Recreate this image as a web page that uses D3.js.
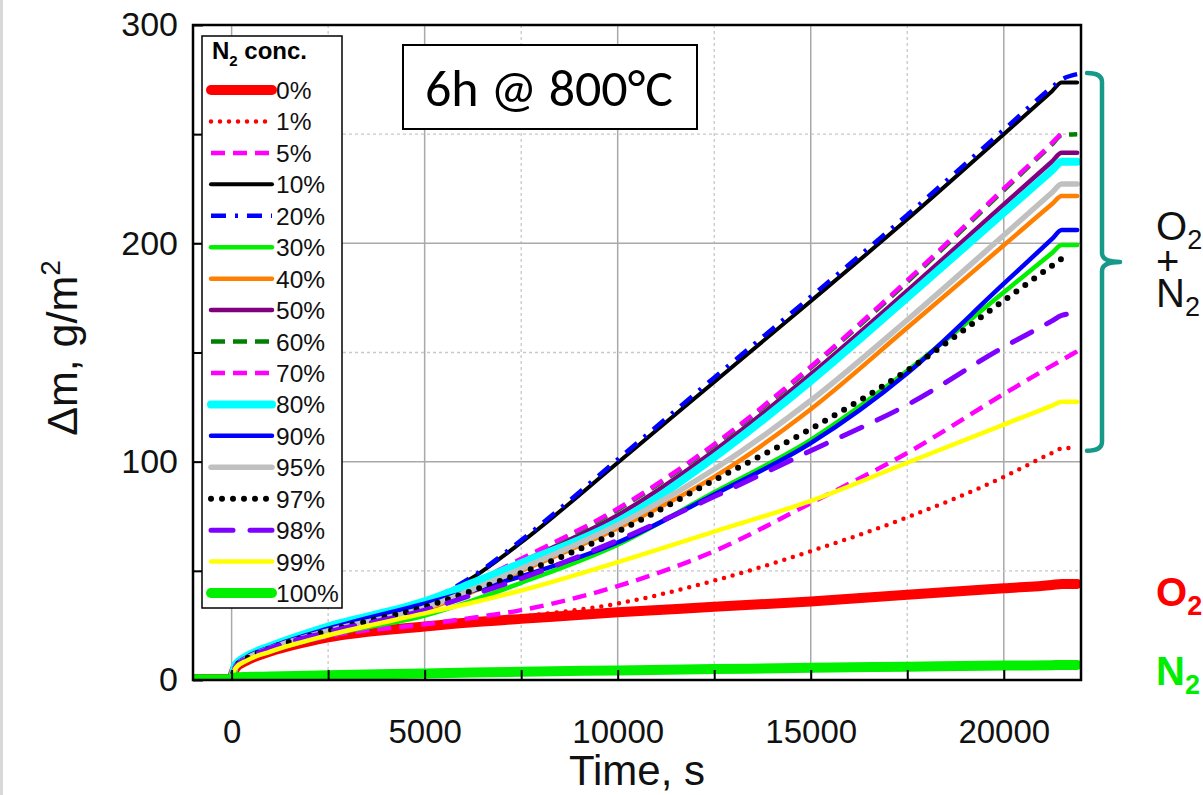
<!DOCTYPE html>
<html>
<head>
<meta charset="utf-8">
<script src="https://cdn.jsdelivr.net/npm/d3@7/dist/d3.min.js"></script>
<style>
  html, body { margin: 0; padding: 0; background: #fff; }
  svg { display: block; font-family: Arial, "Liberation Sans", Helvetica, sans-serif; }
</style>
</head>
<body>
<svg id="chart" width="1203" height="795"></svg>
<script>
// Sample times (s) shared by every mass-gain series
const times = [-1000, -50, 0, 100, 400, 1000, 2500, 5000, 6250, 7500, 10000, 12500, 15000, 17500, 20000, 21250, 21500, 21900];

// Mass gain Δm (g/m²) for each N2 concentration in the O2/N2 atmosphere
const n0   = [0.5, 0.5, 1, 5.5, 9, 13, 19.5, 24.5, 26.5, 28, 31, 33.5, 36, 39, 42, 43.5, 44, 44];
const n1   = [0.5, 0.5, 1, 5.5, 9, 13, 19.5, 24.5, 26.5, 29, 35, 45.5, 59, 74.5, 93, 104, 106, 106.5];
const n5   = [0.5, 0.5, 1, 5.5, 9, 13, 20, 25.5, 28.5, 32, 43, 59, 81, 104, 131, 144, 146.5, 150.5];
const n10  = [0.5, 0.5, 1, 6.5, 10.5, 15, 23.5, 35, 47, 63, 99.5, 136.5, 173.5, 211, 250, 269.7, 273.7, 273.7];
const n20  = [0.5, 0.5, 1, 6.5, 10.5, 15, 23.5, 35.5, 47.5, 64, 101, 138.5, 175.5, 213, 252, 271.5, 275, 277.5];
const n30  = [0.5, 0.5, 1, 5.5, 9, 13, 20.5, 29.5, 36.5, 44.5, 62, 86, 110, 141.6, 177.6, 195.6, 199.2, 199.2];
const n40  = [0.5, 0.5, 1, 6, 10, 14.5, 22, 32, 40.5, 50, 69.5, 93, 124, 161.3, 199.1, 218, 221.7, 221.7];
const n50  = [0.5, 0.5, 1, 6, 10, 14.5, 22.5, 34, 43.5, 54, 75.5, 105, 140, 178.3, 217.8, 237.5, 241.5, 241.5];
const n60  = [0.5, 0.5, 1, 6, 10, 14.5, 22.5, 34, 44, 55, 78, 107.5, 143, 182.3, 224.3, 245.3, 249.5, 250];
const n70  = [0.5, 0.5, 1, 6, 10, 14.5, 22.5, 34, 44.5, 55.5, 78.5, 108, 143.5, 183, 225, 246, 250.5, null];
const n80  = [0.5, 0.5, 1, 7, 11, 15.5, 24.5, 36, 44.5, 53.5, 72.5, 102, 137, 175.2, 214.1, 233.5, 237.4, 237.4];
const n90  = [0.5, 0.5, 1, 6.5, 10.5, 15, 23.5, 35, 41, 47.5, 63, 85, 108.5, 140.5, 181.5, 202, 206.1, 206.1];
const n95  = [0.5, 0.5, 1, 6, 10, 14.5, 22.5, 33, 41.5, 51, 71, 96.5, 128, 164.9, 203.7, 223.3, 227.2, 227.2];
const n97  = [0.5, 0.5, 1, 6, 10, 14.5, 22.5, 33.5, 41, 49, 68, 91.5, 115, 141.8, 173.8, 189.8, 193, null];
const n98  = [0.5, 0.5, 1, 6, 10, 14.5, 22, 32, 39, 46.5, 64, 84, 105, 126, 152.5, 164.5, 167, 168];
const n99  = [0.5, 0.5, 1, 5.5, 9, 13, 20.5, 30.5, 35.5, 41, 54, 68, 82, 99.5, 117, 125.7, 127.5, 127.5];
const n100 = [0.3, 0.3, 0.8, 1.2, 1.4, 1.6, 2.2, 3, 3.4, 3.8, 4.4, 5, 5.6, 6.1, 6.6, 6.8, 6.9, 6.9];

// Legend labels, in drawing order
const concLabels = ["0%", "1%", "5%", "10%", "20%", "30%", "40%", "50%", "60%", "70%", "80%", "90%", "95%", "97%", "98%", "99%", "100%"];
const seriesValues = [n0, n1, n5, n10, n20, n30, n40, n50, n60, n70, n80, n90, n95, n97, n98, n99, n100];

// Axis ticks
const xMajor = [0, 5000, 10000, 15000, 20000];
const xMinor = [2500, 7500, 12500, 17500];
const yMajor = [0, 100, 200, 300];
const yMinor = [50, 150, 250];

// Extent (g/m²) covered by the O2 + N2 bracket
const bracketSpan = [105, 278];

// Line styles per series
const styles = [
  { color: "#ff0000", width: 10, dash: null, cap: "round" },          // 0%
  { color: "#ff0000", width: 4.5, dash: "0 9", cap: "round" },        // 1%
  { color: "#ff00ff", width: 4.5, dash: "14 8", cap: "butt" },        // 5%
  { color: "#000000", width: 4, dash: null, cap: "round" },           // 10%
  { color: "#0000ff", width: 4.5, dash: "15 9 3 9", cap: "butt" },    // 20%
  { color: "#00f000", width: 4.5, dash: null, cap: "round" },         // 30%
  { color: "#ff8000", width: 4.5, dash: null, cap: "round" },         // 40%
  { color: "#800080", width: 4.5, dash: null, cap: "round" },         // 50%
  { color: "#008000", width: 4.5, dash: "14 8", cap: "butt" },        // 60%
  { color: "#ff00ff", width: 4.5, dash: "14 8", cap: "butt" },        // 70%
  { color: "#00ffff", width: 8, dash: null, cap: "round" },           // 80%
  { color: "#0000ff", width: 4.5, dash: null, cap: "round" },         // 90%
  { color: "#c0c0c0", width: 5.5, dash: null, cap: "round" },         // 95%
  { color: "#000000", width: 6, dash: "0 11", cap: "round" },         // 97%
  { color: "#8000ff", width: 5, dash: "22 17", cap: "round" },        // 98%
  { color: "#ffff00", width: 4.5, dash: null, cap: "round" },         // 99%
  { color: "#00f000", width: 10, dash: null, cap: "round" }           // 100%
];

const svg = d3.select("#chart");
const W = 1203, H = 795;
const plot = { left: 193, right: 1081, top: 25, bottom: 680 };

const x = d3.scaleLinear().domain([-1000, 22000]).range([plot.left, plot.right]);
const y = d3.scaleLinear().domain([0, 300]).range([plot.bottom, plot.top]);

// Thin page border on the far left
svg.append("rect").attr("x", 0).attr("y", 0).attr("width", 3).attr("height", H).attr("fill", "#d9d9d9");

// Grid
const grid = svg.append("g");
grid.selectAll(".vmaj").data(xMajor).join("line")
  .attr("x1", d => x(d)).attr("x2", d => x(d))
  .attr("y1", plot.top).attr("y2", plot.bottom)
  .attr("stroke", "#a9a9a9").attr("stroke-width", 1.5);
grid.selectAll(".vmin").data(xMinor).join("line")
  .attr("x1", d => x(d)).attr("x2", d => x(d))
  .attr("y1", plot.top).attr("y2", plot.bottom)
  .attr("stroke", "#c8c8c8").attr("stroke-width", 1.3).attr("stroke-dasharray", "3 3");
grid.selectAll(".hmaj").data(yMajor.filter(v => v > 0 && v < 300)).join("line")
  .attr("x1", plot.left).attr("x2", plot.right)
  .attr("y1", d => y(d)).attr("y2", d => y(d))
  .attr("stroke", "#a9a9a9").attr("stroke-width", 1.5);
grid.selectAll(".hmin").data(yMinor).join("line")
  .attr("x1", plot.left).attr("x2", plot.right)
  .attr("y1", d => y(d)).attr("y2", d => y(d))
  .attr("stroke", "#c8c8c8").attr("stroke-width", 1.3).attr("stroke-dasharray", "3 3");

// Curves
const line = d3.line()
  .x(d => x(d[0]))
  .y(d => y(d[1]))
  .curve(d3.curveMonotoneX);

svg.append("clipPath").attr("id", "plotClip")
  .append("rect").attr("x", plot.left).attr("y", plot.top)
  .attr("width", plot.right - plot.left).attr("height", plot.bottom - plot.top);
const curves = svg.append("g").attr("clip-path", "url(#plotClip)");

seriesValues.forEach((vals, i) => {
  const st = styles[i];
  const pts = times.map((t, k) => [t, vals[k]]).filter(p => p[1] !== null);
  curves.append("path")
    .attr("d", line(pts))
    .attr("fill", "none")
    .attr("stroke", st.color)
    .attr("stroke-width", st.width)
    .attr("stroke-linecap", st.cap)
    .attr("stroke-linejoin", "round")
    .attr("stroke-dasharray", st.dash);
});

// Axes with inward ticks
const gx = svg.append("g").attr("transform", `translate(0,${plot.bottom})`)
  .call(d3.axisBottom(x).tickValues(xMajor).tickSize(-10).tickPadding(40).tickFormat(d3.format("d")));
const gxm = svg.append("g").attr("transform", `translate(0,${plot.bottom})`)
  .call(d3.axisBottom(x).tickValues(xMinor).tickSize(-10).tickFormat(""));
const gy = svg.append("g").attr("transform", `translate(${plot.left},0)`)
  .call(d3.axisLeft(y).tickValues(yMajor).tickSize(-10).tickPadding(15).tickFormat(d3.format("d")));
const gym = svg.append("g").attr("transform", `translate(${plot.left},0)`)
  .call(d3.axisLeft(y).tickValues(yMinor).tickSize(-10).tickFormat(""));

[gx, gxm, gy, gym].forEach(g => {
  g.select(".domain").remove();
  g.selectAll(".tick line").attr("stroke", "#000").attr("stroke-width", 2);
  g.selectAll(".tick text").attr("font-size", 34).attr("fill", "#111")
    .attr("font-family", "Arial, 'Liberation Sans', sans-serif");
});
gx.selectAll(".tick text").attr("font-size", 33);

// Frame
svg.append("rect")
  .attr("x", plot.left).attr("y", plot.top)
  .attr("width", plot.right - plot.left).attr("height", plot.bottom - plot.top)
  .attr("fill", "none").attr("stroke", "#000").attr("stroke-width", 2.5);

// Axis titles
svg.append("text")
  .attr("x", 637).attr("y", 785)
  .attr("text-anchor", "middle").attr("font-size", 42).attr("fill", "#111")
  .text("Time, s");

const yTitle = svg.append("text")
  .attr("transform", `translate(77,348) rotate(-90)`)
  .attr("text-anchor", "middle").attr("font-size", 43).attr("fill", "#111");
yTitle.append("tspan").text("Δm, g/m");
yTitle.append("tspan").attr("font-size", 28).attr("dy", -17).text("2");

// Legend
const legend = svg.append("g");
const lg = { x: 202, y: 36, w: 140, h: 572, row0: 90, step: 31.44 };
legend.append("rect")
  .attr("x", lg.x).attr("y", lg.y).attr("width", lg.w).attr("height", lg.h)
  .attr("fill", "#fff").attr("stroke", "#000").attr("stroke-width", 1.5);
const lt = legend.append("text").attr("x", 212).attr("y", 59)
  .attr("font-size", 24).attr("font-weight", "bold").attr("fill", "#000");
lt.append("tspan").text("N");
lt.append("tspan").attr("font-size", 15).attr("dy", 7).text("2");
lt.append("tspan").attr("dy", -7).text(" conc.");

concLabels.forEach((lab, i) => {
  const st = styles[i];
  const cy = lg.row0 + i * lg.step;
  legend.append("line")
    .attr("x1", 211).attr("x2", 272).attr("y1", cy).attr("y2", cy)
    .attr("stroke", st.color).attr("stroke-width", st.width)
    .attr("stroke-linecap", st.cap === "butt" ? "butt" : "round")
    .attr("stroke-dasharray", st.dash);
  legend.append("text")
    .attr("x", 276).attr("y", cy + 9)
    .attr("font-size", 24.5).attr("fill", "#111")
    .text(lab);
});

// Condition box
svg.append("rect")
  .attr("x", 403).attr("y", 45).attr("width", 294).attr("height", 84)
  .attr("fill", "#fff").attr("stroke", "#000").attr("stroke-width", 2);
svg.append("text")
  .attr("x", 549).attr("y", 106)
  .attr("text-anchor", "middle")
  .attr("font-family", "Carlito, Calibri, Lato, 'Open Sans', sans-serif")
  .attr("font-size", 52).attr("fill", "#000")
  .text("6h @ 800°C");

// Curly bracket grouping the mixed-gas curves
const bTop = y(bracketSpan[1]), bBot = y(bracketSpan[0]);
const bMid = (bTop + bBot) / 2;
const bx = 1102, r = 9;
svg.append("path")
  .attr("d", `M ${bx - 15} ${bTop} Q ${bx} ${bTop} ${bx} ${bTop + r}
              L ${bx} ${bMid - r} Q ${bx} ${bMid} ${bx + 18} ${bMid}
              Q ${bx} ${bMid} ${bx} ${bMid + r}
              L ${bx} ${bBot - r} Q ${bx} ${bBot} ${bx - 15} ${bBot}`)
  .attr("fill", "none").attr("stroke", "#17998a").attr("stroke-width", 4.5)
  .attr("stroke-linecap", "round").attr("stroke-linejoin", "round");

// Gas labels on the right: stacked "O2 + N2" as one text block
const mix = svg.append("text").attr("font-size", 40).attr("fill", "#111");
mix.append("tspan").attr("x", 1156).attr("y", 240).text("O");
mix.append("tspan").attr("font-size", 27).attr("dy", 9).text("2");
mix.append("tspan").attr("x", 1156).attr("y", 275).text("+");
mix.append("tspan").attr("x", 1156).attr("y", 307).text("N");
mix.append("tspan").attr("font-size", 27).attr("dy", 9).text("2");

function gasLabel(sym, yBase, color) {
  const t = svg.append("text").attr("x", 1156).attr("y", yBase)
    .attr("font-size", 40).attr("fill", color).attr("font-weight", "bold");
  t.append("tspan").text(sym);
  t.append("tspan").attr("font-size", 27).attr("dy", 9).text("2");
}
gasLabel("O", 606, "#ff0000");
gasLabel("N", 685, "#00ee00");
</script>
</body>
</html>
